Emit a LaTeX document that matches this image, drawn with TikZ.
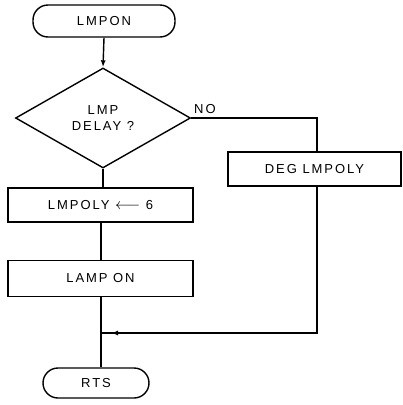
\documentclass[tikz,border=0pt]{standalone}
\usepackage{fontspec}
\setmainfont{Liberation Sans}[LetterSpace=15]
\usetikzlibrary{shapes.geometric,arrows.meta}
\begin{document}
\begin{tikzpicture}[x=1pt,y=-1pt,
  every node/.style={font=\fontsize{13}{16}\selectfont},
  conn/.style={line width=1.4pt},
  box/.style={draw,line width=1.4pt,rectangle,inner sep=0pt},
  term/.style={box,rounded corners=15pt},
  dec/.style={draw,line width=1.4pt,diamond,aspect=1.75,inner sep=0pt}]
\useasboundingbox (0,0) rectangle (403,405);
\node[term,minimum width=142pt,minimum height=32pt] (start) at (104,21) {LMPON};
\node[dec,minimum width=175pt,minimum height=100pt,align=center] (dec) at (103,118) {LMP\\DELAY ?};
\node[anchor=south west,inner sep=1pt] (no) at (193,115) {NO};
\node[box,minimum width=173pt,minimum height=34pt] (deg) at (314.5,169) {DEG LMPOLY};
\node[box,minimum width=185pt,minimum height=34pt] (lmpoly) at (100.5,205) {LMPOLY \raisebox{-0.5pt}{\scalebox{1.3}{$\longleftarrow$}} 6};
\node[box,minimum width=185pt,minimum height=36pt] (lamp) at (100.5,278.5) {LAMP ON};
\node[term,minimum width=106pt,minimum height=30pt] (rts) at (96,383) {RTS};
\coordinate (c1) at (317,118);
\coordinate (c2) at (317,333);
\coordinate (j) at (101,333);
\draw[conn,-{Latex[length=7pt,width=5pt]}] (start.south) -- (dec.north);
\draw[conn] (dec.east) -- (c1) -- (c1 |- deg.north);
\draw[conn] (c1 |- deg.south) -- (c2) -- (j);
\draw[conn,-{Latex[length=7pt,width=5pt]}] (c2) -- ([xshift=10pt]j);
\draw[conn] (dec.south) -- (dec.south |- lmpoly.north);
\draw[conn] (lmpoly.south -| j) -- (lamp.north -| j);
\draw[conn] (lamp.south -| j) -- (j) -- (j |- rts.north);
\end{tikzpicture}
\end{document}
